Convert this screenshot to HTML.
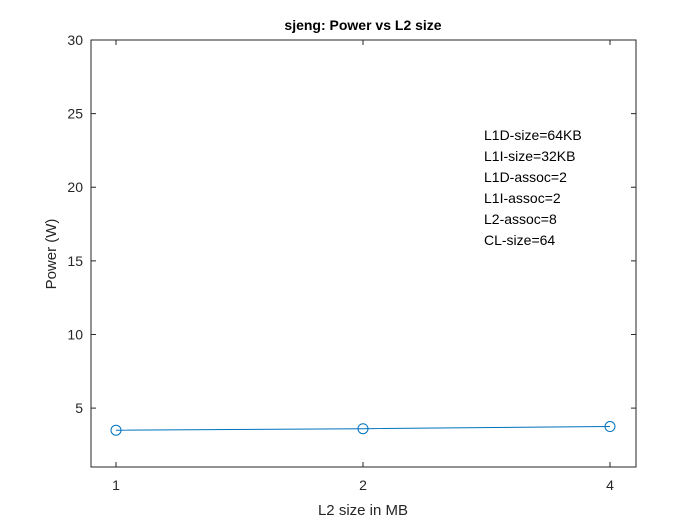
<!DOCTYPE html>
<html><head><meta charset="utf-8"><style>
body{margin:0;background:#fff;}
svg text{font-family:"Liberation Sans",Arial,sans-serif;}
</style></head><body>
<svg width="700" height="525" id="c">
<rect x="0" y="0" width="700" height="525" fill="#fff"/>
<rect x="91" y="40" width="545" height="427" fill="#fff" stroke="#262626" stroke-width="1"/>
<text x="363" y="30" text-anchor="middle" font-size="14" font-weight="bold" fill="#000">sjeng: Power vs L2 size</text>
<text x="363" y="515" text-anchor="middle" font-size="15" fill="#262626">L2 size in MB</text>
<text transform="translate(56,254) rotate(-90)" text-anchor="middle" font-size="15" fill="#262626">Power (W)</text>
<g id="ticks"></g>
<g id="series"></g>
<text font-size="14" fill="#000">
<tspan x="484" y="140">L1D-size=64KB</tspan>
<tspan x="484" y="161">L1I-size=32KB</tspan>
<tspan x="484" y="182">L1D-assoc=2</tspan>
<tspan x="484" y="203">L1I-assoc=2</tspan>
<tspan x="484" y="224">L2-assoc=8</tspan>
<tspan x="484" y="245">CL-size=64</tspan>
</text>
</svg>
<script>
const categories = ["1","2","4"];
const powerValues = [3.5, 3.6, 3.75];
const yTicks = [5,10,15,20,25,30];
const NS="http://www.w3.org/2000/svg";
const yMin=1,yMax=30,pTop=40,pBot=467,pLeft=91,pRight=636;
function ys(v){return pBot-(v-yMin)/(yMax-yMin)*(pBot-pTop);}
function xs(i){return 116+i*(610-116)/(categories.length-1);}
function mk(t,a,p){const e=document.createElementNS(NS,t);for(const k in a)e.setAttribute(k,a[k]);p.appendChild(e);return e;}
const tg=document.getElementById('ticks'),sg=document.getElementById('series');
yTicks.forEach(v=>{const y=ys(v);
 let l=mk('line',{x1:pLeft,x2:pLeft+5,y1:y,y2:y,stroke:'#262626'},tg);
 
 
 let r=mk('line',{x1:pRight,x2:pRight-5,y1:y,y2:y,stroke:'#262626'},tg);
 
 
 let t=mk('text',{x:pLeft-8,y:y+5,'text-anchor':'end','font-size':'14',fill:'#262626'},tg);t.textContent=v;
 
 
});
categories.forEach((c,i)=>{const x=xs(i);
 let l=mk('line',{x1:x,x2:x,y1:pBot,y2:pBot-5,stroke:'#262626'},tg);
 
 
 let l2=mk('line',{x1:x,x2:x,y1:pTop,y2:pTop+5,stroke:'#262626'},tg);
 
 
 let t=mk('text',{x:x,y:pBot+23,'text-anchor':'middle','font-size':'14',fill:'#262626'},tg);t.textContent=c;
 
 
});
const pts=powerValues.map((v,i)=>xs(i)+','+ys(v)).join(' ');
const pl=mk('polyline',{points:pts,fill:'none',stroke:'#0072BD','stroke-width':'1'},sg);


powerValues.forEach((v,i)=>{
 const c=mk('circle',{cx:xs(i),cy:ys(v),r:5,fill:'none',stroke:'#0072BD','stroke-width':'1'},sg);
 
 
});
</script>
</body></html>
